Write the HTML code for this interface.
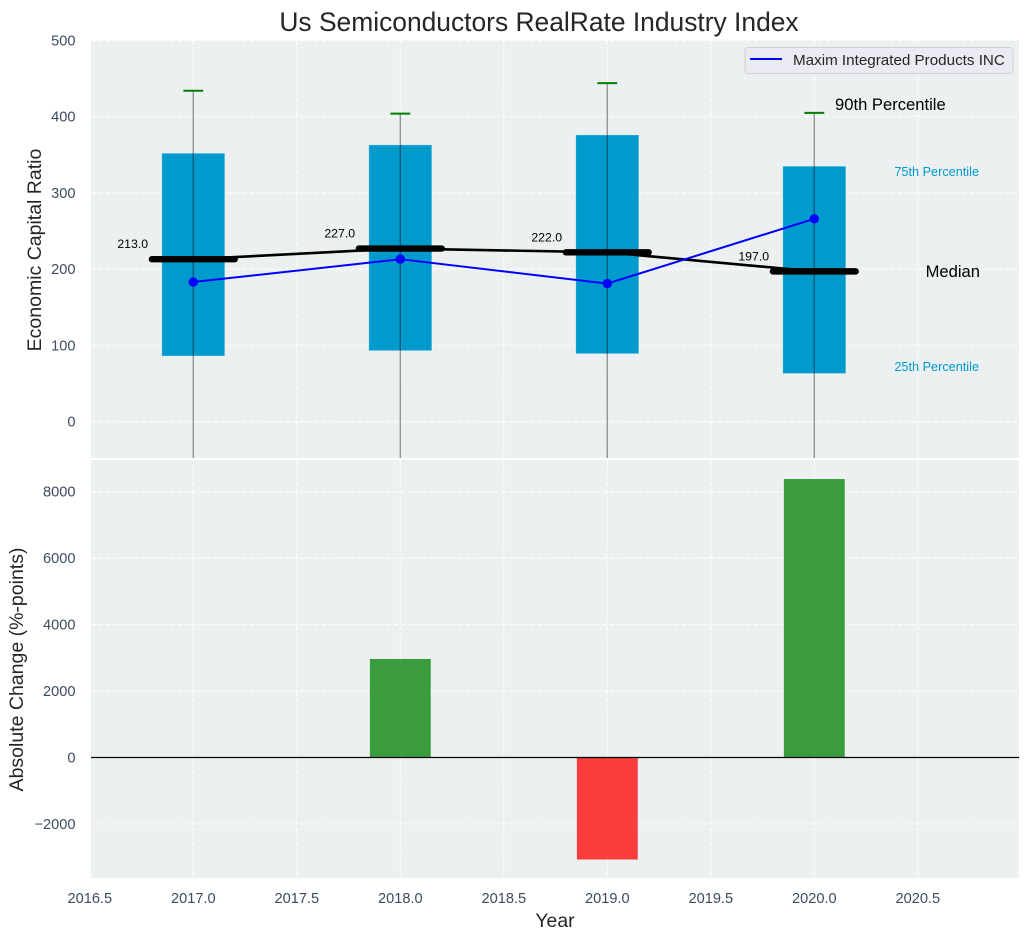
<!DOCTYPE html>
<html>
<head>
<meta charset="utf-8">
<title>Us Semiconductors RealRate Industry Index</title>
<style>
html,body{margin:0;padding:0;background:#fff;}
svg{display:block;font-family:"Liberation Sans",Arial,sans-serif;}
</style>
</head>
<body>
<svg id="chart" xmlns="http://www.w3.org/2000/svg" width="1029" height="940" viewBox="0 0 1029 940">
  <defs>
    <clipPath id="clip-top"><rect x="91" y="40" width="928" height="418"></rect></clipPath>
    <clipPath id="clip-bottom"><rect x="91" y="460" width="928" height="418"></rect></clipPath>
  </defs>
  <text x="539" y="31" text-anchor="middle" font-size="26.4" fill="#262626">Us Semiconductors RealRate Industry Index</text>
  <rect x="91" y="40" width="928" height="418" fill="#ecf0f1"></rect>
  <rect x="91" y="460" width="928" height="418" fill="#ecf0f1"></rect>
  <g id="grid"></g>
  <g id="top-marks" clip-path="url(#clip-top)"></g>
  <g id="bottom-marks" clip-path="url(#clip-bottom)"></g>
  <g id="ticks"></g>
  <g id="notes"></g>
  <text transform="translate(41,250) rotate(-90)" text-anchor="middle" font-size="19.5" fill="#262626">Economic Capital Ratio</text>
  <text transform="translate(23,669.5) rotate(-90)" text-anchor="middle" font-size="19.5" fill="#262626">Absolute Change (%-points)</text>
  <text x="555" y="927" text-anchor="middle" font-size="19.4" fill="#262626">Year</text>
  <g>
    <rect x="745" y="47.5" width="268" height="26" rx="3" fill="#eaeaf2" stroke="#cfd0d4" stroke-width="1"></rect>
    <line x1="750" x2="782" y1="59" y2="59" stroke="#0000ff" stroke-width="2"></line>
    <text x="793" y="65" font-size="15.2" fill="#262626">Maxim Integrated Products INC</text>
  </g>
</svg>
<script>
// Chart data
const years = [2017, 2018, 2019, 2020];
const p90 = [434, 404, 444, 405];
const p75 = [352, 363, 376, 335];
const medians = [213, 227, 222, 197];
const p25 = [86, 93, 89, 63];
const p10 = [-80, -80, -80, -80];
const companyValues = [183, 213, 181, 266];
const absoluteChange = [0, 2965, -3070, 8380];
const xTickLabels = ['2016.5', '2017.0', '2017.5', '2018.0', '2018.5', '2019.0', '2019.5', '2020.0', '2020.5'];
const topTickLabels = ['0', '100', '200', '300', '400', '500'];
const bottomTickLabels = ['\u22122000', '0', '2000', '4000', '6000', '8000'];

// Axis functions
const xS = v => 193.3 + (v - 2017) * 207;
const yT = v => 421.5 - v * 0.762;
const yB = v => 757.5 - v * 0.03323;
const NS = 'http://www.w3.org/2000/svg';

function mk(parent, tag, attrs, text) {
  const el = document.createElementNS(NS, tag);
  for (const k in attrs) el.setAttribute(k, attrs[k]);
  if (text !== undefined) el.textContent = text;
  parent.appendChild(el);
  return el;
}
const num = s => parseFloat(s.replace('\u2212', '-'));
const grid = document.getElementById('grid');
const top_ = document.getElementById('top-marks');
const bot = document.getElementById('bottom-marks');
const ticks = document.getElementById('ticks');
const notes = document.getElementById('notes');
const gridStyle = {stroke: '#ffffff', 'stroke-width': 1.2, 'stroke-dasharray': '5 2.2', 'stroke-opacity': 0.85};

xTickLabels.forEach(t => {
  const v = num(t);
  if (xS(v) > 91) {
    const g1 = mk(grid, 'line', Object.assign({x1: xS(v), x2: xS(v), y1: 40, y2: 458}, gridStyle));
    
    
    const g2 = mk(grid, 'line', Object.assign({x1: xS(v), x2: xS(v), y1: 460, y2: 878}, gridStyle));
    
    
  }
  const lab = mk(ticks, 'text', {x: xS(v), y: 903, 'text-anchor': 'middle', 'font-size': 14.6, fill: '#3c4c60'}, t);
  
  
});
topTickLabels.forEach(t => {
  const v = num(t);
  const g = mk(grid, 'line', Object.assign({x1: 91, x2: 1019, y1: yT(v), y2: yT(v)}, gridStyle));
  
  
  const lab = mk(ticks, 'text', {x: 75.5, y: yT(v) + 5, 'text-anchor': 'end', 'font-size': 14.6, fill: '#3c4c60'}, t);
  
  
});
bottomTickLabels.forEach(t => {
  const v = num(t);
  const g = mk(grid, 'line', Object.assign({x1: 91, x2: 1019, y1: yB(v), y2: yB(v)}, gridStyle));
  
  
  const lab = mk(ticks, 'text', {x: 75.5, y: yB(v) + 5, 'text-anchor': 'end', 'font-size': 14.6, fill: '#3c4c60'}, t);
  
  
});

// Boxes
years.forEach((yr, i) => {
  const box = mk(top_, 'rect', {x: xS(yr - 0.152), width: xS(yr + 0.152) - xS(yr - 0.152), y: yT(p75[i]), height: yT(p25[i]) - yT(p75[i]), fill: '#009acd', stroke: '#ffffff', 'stroke-opacity': 0.25, 'stroke-width': 1});
  
  
});
// Whiskers and caps
years.forEach((yr, i) => {
  const w = mk(top_, 'line', {x1: xS(yr), x2: xS(yr), y1: yT(p90[i]), y2: yT(p10[i]), stroke: '#000000', 'stroke-opacity': 0.4, 'stroke-width': 1.4});
  
  
  const c = mk(top_, 'line', {x1: xS(yr - 0.048), x2: xS(yr + 0.048), y1: yT(p90[i]), y2: yT(p90[i]), stroke: '#008000', 'stroke-width': 2});
  
  
});
// Median connector
const medLine = mk(top_, 'polyline', {points: years.map((yr, i) => xS(yr) + ',' + yT(medians[i])).join(' '), fill: 'none', stroke: '#000000', 'stroke-width': 2.6});


years.forEach((yr, i) => {
  const m = mk(top_, 'line', {x1: xS(yr - 0.2), x2: xS(yr + 0.2), y1: yT(medians[i]), y2: yT(medians[i]), stroke: '#000000', 'stroke-width': 6.4, 'stroke-linecap': 'round'});
  
  
  const lab = mk(notes, 'text', {x: xS(yr - 0.367), y: yT(medians[i]) - 11, 'font-size': 12.3, fill: '#000000'}, medians[i].toFixed(1));
  
  
});
// Company series
const compLine = mk(top_, 'polyline', {points: years.map((yr, i) => xS(yr) + ',' + yT(companyValues[i])).join(' '), fill: 'none', stroke: '#0000ff', 'stroke-width': 2});


years.forEach((yr, i) => {
  const p = mk(top_, 'circle', {cx: xS(yr), cy: yT(companyValues[i]), r: 4.7, fill: '#0000ff'});
  
  
});
// Change bars
years.forEach((yr, i) => {
  const v = absoluteChange[i];
  if (v === 0) return;
  const b = mk(bot, 'rect', {x: xS(yr - 0.147), width: xS(yr + 0.147) - xS(yr - 0.147), y: Math.min(yB(0), yB(v)), height: Math.abs(yB(v) - yB(0)), fill: v >= 0 ? '#008000' : '#ff0000', 'fill-opacity': 0.75});
  
  
});
const zero = mk(bot, 'line', {x1: 91, x2: 1019, y1: yB(0), y2: yB(0), stroke: '#000000', 'stroke-width': 1.2});



// Percentile annotations (anchored to the last year)
const li = years.length - 1;
const lastYear = years[li];
const n90 = mk(notes, 'text', {x: xS(lastYear + 0.1), y: yT(p90[li]) - 3, 'font-size': 16.6, fill: '#000000'}, '90th Percentile');


const n75 = mk(notes, 'text', {x: 979, y: yT(p75[li]) + 10, 'text-anchor': 'end', 'font-size': 12.7, fill: '#009acd'}, '75th Percentile');


const nMed = mk(notes, 'text', {x: 980, y: yT(medians[li]) + 5.5, 'text-anchor': 'end', 'font-size': 16.6, fill: '#000000'}, 'Median');


const n25 = mk(notes, 'text', {x: 979, y: yT(p25[li]) - 2.5, 'text-anchor': 'end', 'font-size': 12.7, fill: '#009acd'}, '25th Percentile');


</script>
</body>
</html>
